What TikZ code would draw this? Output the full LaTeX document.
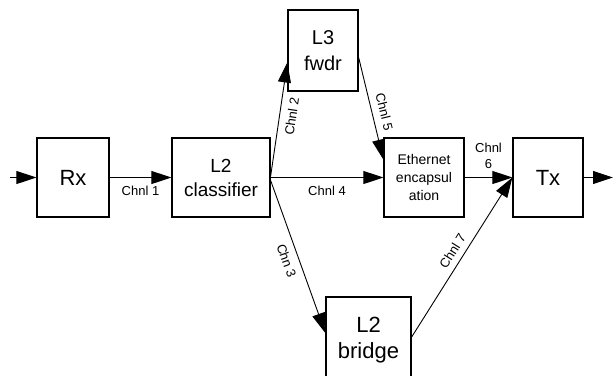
\documentclass[tikz,border=0pt]{standalone}
\usepackage{fontspec}
\setmainfont{Liberation Sans}
\usetikzlibrary{arrows.meta}

\tikzset{
  blk/.style={draw, line width=1.3pt, inner sep=0pt, align=center},
  chan/.style={line width=0.9pt, -{Triangle[length=20pt,width=13pt]}},
  lbl/.style={font=\fontsize{13}{16}\selectfont, inner sep=2pt, align=center},
}

\begin{document}
\begin{tikzpicture}[x=1pt,y=-1pt]
\useasboundingbox (0,0) rectangle (613,375);
% Processing blocks
\node[blk, minimum width=72pt, minimum height=79pt, font=\fontsize{22}{26}\selectfont] (rx) at (73,177.5) {Rx};
\node[blk, minimum width=98pt, minimum height=79pt, font=\fontsize{19}{24}\selectfont] (cls) at (221,177.5) {L2\\classifier};
\node[blk, minimum width=70pt, minimum height=81pt, font=\fontsize{20}{26}\selectfont] (fwdr) at (323,50.5) {L3\\fwdr};
\node[blk, minimum width=80pt, minimum height=79pt, font=\fontsize{14}{18}\selectfont] (encap) at (424,177.5) {Ethernet\\encapsul\\ation};
\node[blk, minimum width=70pt, minimum height=79pt, font=\fontsize{22}{26}\selectfont] (tx) at (548,177.5) {Tx};
\node[blk, minimum width=85pt, minimum height=86pt, font=\fontsize{22}{26}\selectfont] (bridge) at (368.5,340) {L2\\bridge};
% Open ends
\coordinate (src) at (10,177.5);
\coordinate (sink) at (613,177.5);
% Channels
\draw[chan] (src) -- (rx.west);
\draw[chan] (rx.east) -- node[lbl, below=6pt] {Chnl 1} (cls.west);
\draw[chan] ([yshift=1.5pt]cls.east) -- node[lbl, sloped, below=5pt, pos=0.54] {Chnl 2} ([yshift=-12pt]fwdr.west);
\draw[chan] ([yshift=-3pt]cls.east) -- node[lbl, sloped, below=5pt] {Chn 3} ([yshift=7pt]bridge.west);
\draw[chan] (cls.east) -- node[lbl, below=6pt] {Chnl 4} (encap.west);
\draw[chan] ([yshift=-7pt]fwdr.east) -- node[lbl, sloped, above=5pt, pos=0.56] {Chnl 5} ([yshift=18pt]encap.west);
\draw[chan] (encap.east) -- node[lbl, above=6pt] {Chnl\\6} (tx.west);
\draw[chan] ([yshift=3pt]bridge.east) -- node[lbl, sloped, above=4pt] {Chnl 7} (tx.west);
\draw[chan] (tx.east) -- (sink);
\end{tikzpicture}
\end{document}
